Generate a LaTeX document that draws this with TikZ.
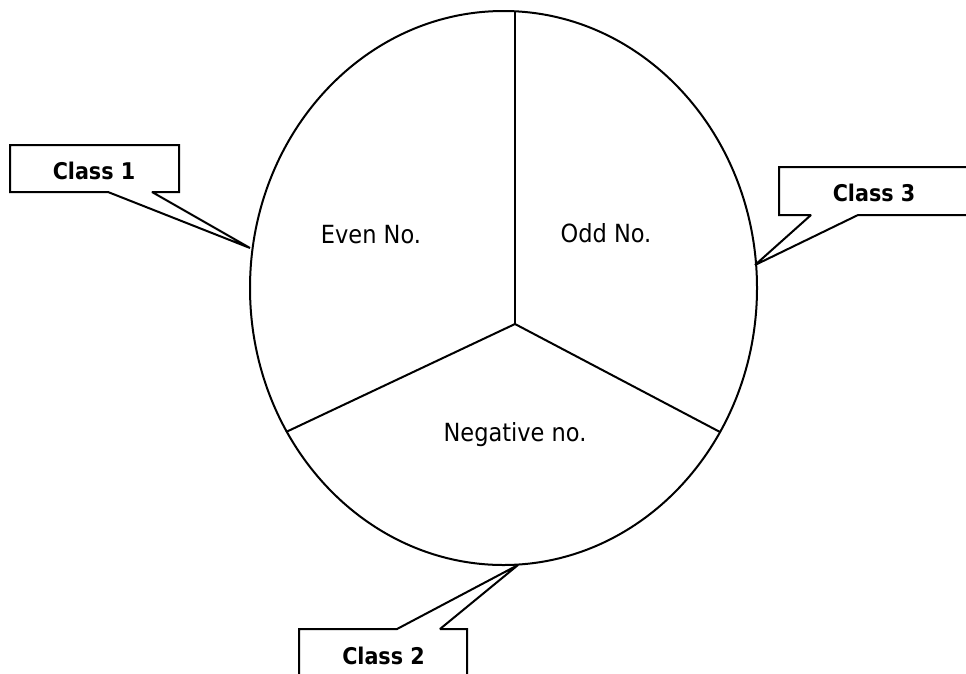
\documentclass[tikz,border=0pt]{standalone}
\usepackage{fontspec}
\setmainfont{DejaVu Sans Condensed}
\begin{document}
\begin{tikzpicture}[x=1pt,y=-1pt,
  edge/.style={line width=2pt, line join=miter},
  region/.style={font=\fontsize{25}{28}\selectfont, inner sep=0pt, anchor=base},
  classlabel/.style={font=\bfseries\fontsize{23}{26}\selectfont, inner sep=0pt},
  callout/.style={line width=2pt, fill=white, line join=miter, miter limit=2}]
\useasboundingbox (0,0) rectangle (966,673);
\begin{scope}
\clip (0,0) rectangle (966,673);
% callouts
\draw[callout] (10,145) -- (179,145) -- (179,192) -- (152,192) -- (250,248) -- (108,192) -- (10,192) -- cycle;
\draw[callout] (975,167) -- (779,167) -- (779,215) -- (811,215) -- (755,265) -- (858,215) -- (975,215);
\draw[callout] (299,680) -- (299,629) -- (397,629) -- (518,565) -- (440,629) -- (467,629) -- (467,680);
% main ellipse
\coordinate (c) at (503.5,288);
\draw[edge] (c) ellipse [x radius=253.5pt, y radius=277pt];
\coordinate (hub) at (515,324);
\coordinate (top) at (515,11.5);
\coordinate (left) at (286,432);
\coordinate (right) at (720,432);
\draw[edge] (hub) -- (top);
\draw[edge] (hub) -- (left);
\draw[edge] (hub) -- (right);
\end{scope}
% texts
\node[region] (even) at (371,243) {Even No.};
\node[region] (odd) at (606,242) {Odd No.};
\node[region] (neg) at (515,441) {Negative no.};
\node[classlabel] (c1) at (94,170.5) {Class 1};
\node[classlabel] (c3) at (874,193) {Class 3};
\node[classlabel] (c2) at (383.5,656) {Class 2};
\end{tikzpicture}
\end{document}
